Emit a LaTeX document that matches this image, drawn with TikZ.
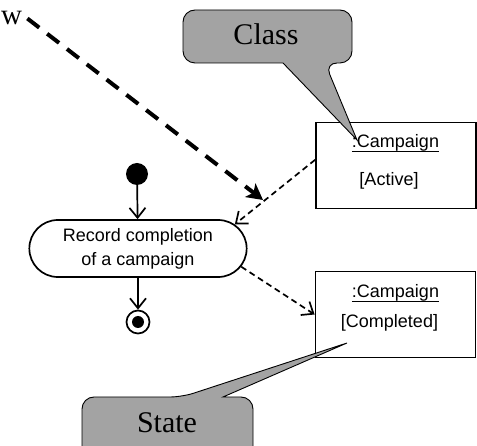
\documentclass[tikz,border=0pt]{standalone}
\usepackage{fontspec}
\setmainfont{Liberation Serif}
\setsansfont{Liberation Sans}
\usetikzlibrary{shapes,arrows.meta}

\definecolor{calloutgray}{RGB}{163,163,163}
\newlength{\objlen}
\newcommand{\objul}[1]{\settowidth{\objlen}{#1}\rlap{\rule[-4pt]{\objlen}{1pt}}#1}

\begin{document}
\begin{tikzpicture}[x=1pt,y=-1pt]
\tikzstyle{flow}=[line width=1.7pt, -{Straight Barb[length=10pt,width=16pt]}]
\tikzstyle{objflow}=[flow, dash pattern=on 6pt off 4pt]
\tikzstyle{bigflow}=
[
	line width=4pt, dash pattern=on 15pt off 10pt,
	-{Stealth[length=16pt,width=17pt,inset=4pt]}
]
\tikzstyle{activity}=
[
	draw, line width=1.7pt, rounded rectangle,
	minimum width=224pt, minimum height=57pt, align=center,
	font=\sffamily\fontsize{18}{24}\selectfont
]
\tikzstyle{object}=[draw, line width=1.8pt, rectangle, minimum width=160pt, minimum height=86pt]
\tikzstyle{objtext}=[anchor=base, inner sep=0pt, font=\sffamily\fontsize{18}{22}\selectfont]
\tikzstyle{callout}=[draw=black, fill=calloutgray, line width=0.9pt, rounded corners=12pt]
\tikzstyle{callouttext}=[anchor=base, inner sep=0pt, font=\fontsize{30}{36}\selectfont]

\clip (0,0) rectangle (477,446);
\useasboundingbox (0,0) rectangle (477,446);

% activity
\node[circle, fill, minimum size=22pt, inner sep=0pt] (start) at (137,174) {};
\node[activity] (record) at (138,248.5) {Record completion\\of a campaign};
\node[circle, draw, line width=1.7pt, minimum size=23pt, inner sep=0pt] (end) at (138,322) {};
\node[circle, fill, minimum size=12pt, inner sep=0pt] (enddot) at (end) {};

% objects
\node[object] (active) at (396,165.5) {};
\node[objtext] (activename) at (395.5,148) {\objul{:Campaign}};
\node[objtext] (activestate) at (389,186) {[Active]};
\node[object] (completed) at (395.5,314.5) {};
\node[objtext] (completedname) at (395.5,298) {\objul{:Campaign}};
\node[objtext] (completedstate) at (389.5,328) {[Completed]};

% flows
\draw[flow] (start) -- (record);
\draw[flow] (record) -- (end);
\draw[objflow] (active.176) -- (record.14);
\draw[objflow] (record.-10) -- (completed.west);

\node[anchor=base west, inner sep=0pt, font=\fontsize{29}{36}\selectfont] (flowlbl) at (1,25) {w};
\coordinate (flowtip) at (263,200);
\draw[bigflow] ([xshift=5pt]flowlbl.east) -- (flowtip);

% callouts
\draw[callout] (183,10) -- (352,10) -- (352,63) -- (325,63) [sharp corners] -- (357,140)
	-- (283,63) [rounded corners=12pt] -- (183,63) -- cycle;
\node[callouttext] (classlbl) at (266,45) {Class};
\draw[callout] (82,460) -- (82,397) -- (182,397) [sharp corners] -- (347,343)
	-- (223,397) [rounded corners=12pt] -- (253,397) -- (253,460);
\node[callouttext] (statelbl) at (167,432) {State};
\end{tikzpicture}
\end{document}
